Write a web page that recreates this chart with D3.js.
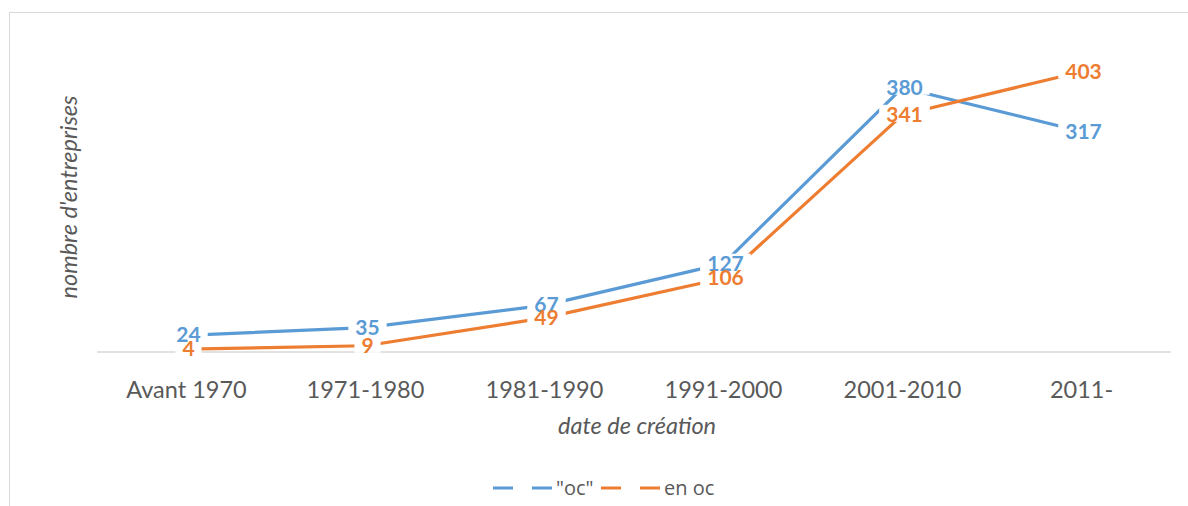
<!DOCTYPE html>
<html>
<head>
  <meta charset="utf-8">
  <style>
    body { margin: 0; background: #fff; }
    text { font-family: Lato, "Open Sans", sans-serif; }
  </style>
  <title>nombre d'entreprises par date de création</title>
</head>
<body>
  <script src="https://cdn.jsdelivr.net/npm/d3@7/dist/d3.min.js"></script>
  <script>
    // data
    var categories = ["Avant 1970", "1971-1980", "1981-1990", "1991-2000", "2001-2010", "2011-"];
    var ocValues = [24, 35, 67, 127, 380, 317];
    var enOcValues = [4, 9, 49, 106, 341, 403];
    var seriesNames = ['"oc"', "en oc"];
    var seriesColors = ["#5b9bd5", "#ed7d31"];

    var width = 1188, height = 506;
    var plot = {left: 97, right: 1171, top: 39, bottom: 352};

    var svg = d3.select("body").append("svg")
      .attr("width", width)
      .attr("height", height);

    // chart border (right and bottom edges fall outside the picture)
    svg.append("rect")
      .attr("x", 9.5).attr("y", 12.5)
      .attr("width", 1200).attr("height", 520)
      .attr("fill", "none")
      .attr("stroke", "#d9d9d9")
      .attr("stroke-width", 1);

    var x = d3.scaleBand().domain(categories).range([plot.left, plot.right]);
    var y = d3.scaleLinear().domain([0, 450]).range([plot.bottom, plot.top]);

    // baseline
    svg.append("line")
      .attr("x1", plot.left).attr("x2", plot.right)
      .attr("y1", y(0)).attr("y2", y(0))
      .attr("stroke", "#d9d9d9")
      .attr("stroke-width", 1.5);

    // x axis tick labels
    var xAxis = d3.axisBottom(x).tickSize(0).tickPadding(0);
    var gx = svg.append("g")
      .attr("transform", "translate(0," + (y(0) + 29) + ")")
      .call(xAxis);
    gx.select(".domain").remove();
    gx.selectAll("text")
      .attr("fill", "#595959")
      .style("font-size", "23.5px")
      .style("font-family", "Lato, sans-serif");

    // axis titles
    svg.append("text")
      .attr("x", 637).attr("y", 434)
      .attr("text-anchor", "middle")
      .attr("fill", "#595959")
      .style("font-size", "23.5px")
      .style("font-style", "italic")
      .text("date de création");

    svg.append("text")
      .attr("transform", "translate(77,197) rotate(-90)")
      .attr("text-anchor", "middle")
      .attr("fill", "#595959")
      .style("font-size", "23.5px")
      .style("font-style", "italic")
      .text("nombre d'entreprises");

    var series = [ocValues, enOcValues];
    var cx = function (i) { return x(categories[i]) + x.bandwidth() / 2; };

    var line = d3.line()
      .x(function (d, i) { return cx(i); })
      .y(function (d) { return y(d); });

    series.forEach(function (vals, s) {
      svg.append("path")
        .datum(vals)
        .attr("d", line)
        .attr("fill", "none")
        .attr("stroke", seriesColors[s])
        .attr("stroke-width", 3.2)
        .attr("stroke-linejoin", "round");
    });

    // data labels on white boxes, drawn over the lines
    var boxLayer = svg.append("g");
    var textLayer = svg.append("g");
    series.forEach(function (vals, s) {
      vals.forEach(function (v, i) {
        var t = textLayer.append("text")
          .attr("x", cx(i) + 2)
          .attr("y", y(v) + 7)
          .attr("text-anchor", "middle")
          .attr("fill", seriesColors[s])
          .style("font-size", "21px")
          .style("font-weight", "bold")
          .text(v);
        var b = t.node().getBBox();
        boxLayer.append("rect")
          .attr("x", b.x - 7).attr("y", b.y + 4)
          .attr("width", b.width + 14).attr("height", b.height - 8)
          .attr("fill", "#fff");
      });
    });

    // legend
    var legend = svg.append("g").attr("transform", "translate(0,488)");
    var legendX = [493, 601];
    seriesNames.forEach(function (name, s) {
      legend.append("line")
        .attr("x1", legendX[s]).attr("x2", legendX[s] + 59)
        .attr("y1", 0).attr("y2", 0)
        .attr("stroke", seriesColors[s])
        .attr("stroke-width", 3.2)
        .attr("stroke-dasharray", "20,19");
      legend.append("text")
        .attr("x", legendX[s] + 63)
        .attr("y", 7)
        .attr("fill", "#595959")
        .style("font-size", "20px")
        .style("font-family", "'Open Sans', sans-serif")
        .text(name);
    });
  </script>
</body>
</html>
